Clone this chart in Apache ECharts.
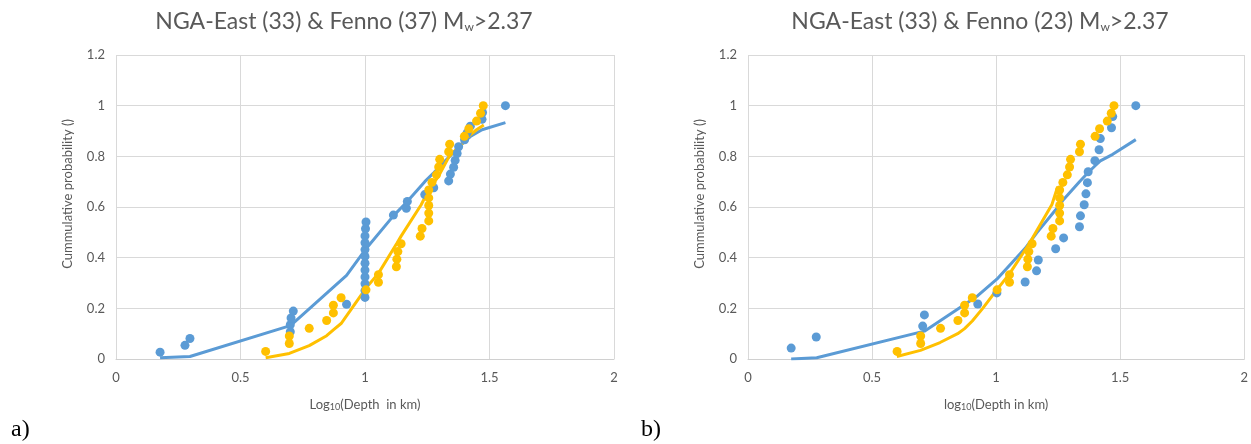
<!DOCTYPE html>
<html>
<head>
<meta charset="utf-8">
<script src="https://cdn.jsdelivr.net/npm/echarts@6/dist/echarts.min.js"></script>
<style>
  html, body { margin: 0; padding: 0; background: #fff; }
  #chart { width: 1251px; height: 444px; }
</style>
</head>
<body>
<div id="chart"></div>
<script>
// left panel a): Fenno (37) blue, NGA-East (33) yellow
var fennoAX = [0.177, 0.277, 0.297, 0.700, 0.700, 0.703, 0.712, 0.926,
  1.0, 1.0, 1.0, 1.0, 1.0, 1.0, 1.0, 1.0, 1.0, 1.0, 1.002, 1.004,
  1.114, 1.166, 1.170, 1.240, 1.276, 1.336, 1.343, 1.356, 1.362, 1.370, 1.376,
  1.400, 1.410, 1.423, 1.470, 1.472, 1.564]
var fennoAY = [0.027, 0.054, 0.081, 0.108, 0.135, 0.162, 0.189, 0.216, 0.243, 0.270,
  0.297, 0.324, 0.351, 0.378, 0.405, 0.432, 0.459, 0.486, 0.514, 0.541,
  0.568, 0.595, 0.622, 0.649, 0.676, 0.703, 0.730, 0.757, 0.784, 0.811,
  0.838, 0.865, 0.892, 0.919, 0.946, 0.973, 1.000]
var fennoAFitX = [0.177, 0.297, 0.700, 0.712, 0.926, 1.0, 1.114, 1.168, 1.240, 1.276,
  1.340, 1.370, 1.400, 1.423, 1.470, 1.564]
var fennoAFitY = [0.005, 0.010, 0.132, 0.142, 0.330, 0.430, 0.565, 0.620, 0.700, 0.735,
  0.800, 0.830, 0.858, 0.878, 0.905, 0.933]

// NGA-East (33), same in both panels
var ngaX = [0.601, 0.696, 0.696, 0.776, 0.846, 0.873, 0.873, 0.904, 1.004, 1.054,
  1.054, 1.126, 1.128, 1.132, 1.145, 1.222, 1.229, 1.256, 1.256, 1.256,
  1.256, 1.256, 1.269, 1.287, 1.296, 1.300, 1.336, 1.340, 1.399, 1.417,
  1.448, 1.464, 1.475]
var ngaY = [0.030, 0.061, 0.091, 0.121, 0.152, 0.182, 0.212, 0.242, 0.273, 0.303,
  0.333, 0.364, 0.394, 0.424, 0.455, 0.485, 0.515, 0.545, 0.576, 0.606,
  0.636, 0.667, 0.697, 0.727, 0.758, 0.788, 0.818, 0.848, 0.879, 0.909,
  0.939, 0.970, 1.000]
var ngaAFitX = [0.601, 0.696, 0.776, 0.846, 0.873, 0.904, 0.940, 1.004, 1.054, 1.128,
  1.145, 1.225, 1.256, 1.287, 1.300, 1.338, 1.400, 1.417, 1.448, 1.477]
var ngaAFitY = [0.005, 0.022, 0.053, 0.092, 0.115, 0.140, 0.190, 0.280, 0.338, 0.457,
  0.485, 0.608, 0.667, 0.710, 0.730, 0.800, 0.860, 0.880, 0.905, 0.924]

// right panel b): Fenno (23) blue
var fennoBX = [0.174, 0.275, 0.704, 0.711, 0.926, 1.003, 1.117, 1.163, 1.170, 1.240,
  1.272, 1.336, 1.340, 1.355, 1.362, 1.368, 1.371, 1.398, 1.415, 1.420,
  1.465, 1.470, 1.563]
var fennoBY = [0.043, 0.087, 0.130, 0.174, 0.217, 0.261, 0.304, 0.348, 0.391, 0.435,
  0.478, 0.522, 0.565, 0.609, 0.652, 0.696, 0.739, 0.783, 0.826, 0.870,
  0.913, 0.957, 1.000]
var fennoBFitX = [0.174, 0.277, 0.711, 0.926, 1.003, 1.117, 1.163, 1.240, 1.272, 1.336,
  1.370, 1.398, 1.420, 1.470, 1.563]
var fennoBFitY = [0.000, 0.005, 0.110, 0.250, 0.315, 0.437, 0.497, 0.589, 0.630, 0.700,
  0.735, 0.762, 0.782, 0.808, 0.866]
var ngaBFitX = [0.600, 0.695, 0.774, 0.845, 0.873, 0.904, 0.946, 1.004, 1.053, 1.130,
  1.145, 1.225, 1.248]
var ngaBFitY = [0.010, 0.034, 0.065, 0.100, 0.120, 0.150, 0.200, 0.275, 0.335, 0.450,
  0.475, 0.610, 0.680]

var xTicks = [0, 0.5, 1, 1.5, 2]
var yTicks = [0, 0.2, 0.4, 0.6, 0.8, 1, 1.2]

var BLUE = '#5b9bd5'
var YELLOW = '#ffc000'
var FONT = 'Lato'

function pairs(xs, ys) {
  return xs.map(function (x, i) { return [x, ys[i]] })
}

function titleItem(text, left) {
  return {
    text: text,
    left: left,
    top: 5,
    textAlign: 'center',
    textStyle: {
      fontWeight: 'normal',
      rich: {
        a: { fontFamily: FONT, fontSize: 23, fontWeight: 'normal', color: '#595959' },
        s: { fontFamily: FONT, fontSize: 12, fontWeight: 'normal', color: '#595959', padding: [11, 0, 0, 0] }
      }
    }
  }
}

function xAxisItem(idx, label) {
  return {
    gridIndex: idx,
    type: 'value',
    min: xTicks[0],
    max: xTicks[xTicks.length - 1],
    interval: 0.5,
    name: label,
    nameLocation: 'middle',
    nameGap: 38,
    nameTextStyle: {
      rich: {
        a: { fontFamily: FONT, fontSize: 13, color: '#595959' },
        s: { fontFamily: FONT, fontSize: 9, color: '#595959', padding: [6, 0, 0, 0] }
      }
    },
    axisLine: { show: true, lineStyle: { color: '#d0d0d0', width: 1 } },
    axisTick: { show: false },
    axisLabel: { fontFamily: FONT, fontSize: 13, color: '#595959', margin: 12 },
    splitLine: { show: true, lineStyle: { color: '#d9d9d9', width: 1 } }
  }
}

function yAxisItem(idx) {
  return {
    gridIndex: idx,
    type: 'value',
    min: yTicks[0],
    max: yTicks[yTicks.length - 1],
    interval: 0.2,
    name: 'Cummulative probability ()',
    nameLocation: 'middle',
    nameRotate: 90,
    nameGap: 42,
    nameTextStyle: { fontFamily: FONT, fontSize: 13, color: '#595959', padding: [0, 0, 0, 26] },
    axisLine: { show: false },
    axisTick: { show: false },
    axisLabel: {
      fontFamily: FONT, fontSize: 13, color: '#595959', margin: 11,
      formatter: function (v) { return String(Math.round(v * 10) / 10) }
    },
    splitLine: { show: true, lineStyle: { color: '#d9d9d9', width: 1 } }
  }
}

function dots(idx, data, color, z) {
  return {
    type: 'scatter', xAxisIndex: idx, yAxisIndex: idx,
    data: data, symbol: 'circle', symbolSize: 9,
    itemStyle: { color: color, opacity: 1 }, z: z, silent: true
  }
}

function fit(idx, data, color, z) {
  return {
    type: 'line', xAxisIndex: idx, yAxisIndex: idx,
    data: data, showSymbol: false, smooth: false,
    lineStyle: { color: color, width: 3 }, z: z, silent: true
  }
}

var chart = echarts.init(document.getElementById('chart'), null, { renderer: 'canvas' })
var option = {
  animation: false,
  backgroundColor: '#fff',
  title: [
    titleItem('{a|NGA-East (33) & Fenno (37) M}{s|w}{a|>2.37}', 339),
    titleItem('{a|NGA-East (33) & Fenno (23) M}{s|w}{a|>2.37}', 975),
    { text: 'a)', left: 6, top: 413, textStyle: { fontFamily: 'Liberation Serif', fontSize: 24, fontWeight: 'normal', color: '#000' } },
    { text: 'b)', left: 636, top: 413, textStyle: { fontFamily: 'Liberation Serif', fontSize: 24, fontWeight: 'normal', color: '#000' } }
  ],
  grid: [
    { left: 116, right: 637, top: 55, bottom: 85 },
    { left: 748, right: 5, top: 55, bottom: 85 }
  ],
  xAxis: [
    xAxisItem(0, '{a|Log}{s|10}{a|(Depth  in km)}'),
    xAxisItem(1, '{a|log}{s|10}{a|(Depth in km)}')
  ],
  yAxis: [yAxisItem(0), yAxisItem(1)],
  series: [
    fit(0, pairs(fennoAFitX, fennoAFitY), BLUE, 2),
    fit(0, pairs(ngaAFitX, ngaAFitY), YELLOW, 3),
    dots(0, pairs(fennoAX, fennoAY), BLUE, 4),
    dots(0, pairs(ngaX, ngaY), YELLOW, 5),
    fit(1, pairs(fennoBFitX, fennoBFitY), BLUE, 2),
    fit(1, pairs(ngaBFitX, ngaBFitY), YELLOW, 3),
    dots(1, pairs(fennoBX, fennoBY), BLUE, 4),
    dots(1, pairs(ngaX, ngaY), YELLOW, 5)
  ]
}
chart.setOption(option)
</script>
</body>
</html>
